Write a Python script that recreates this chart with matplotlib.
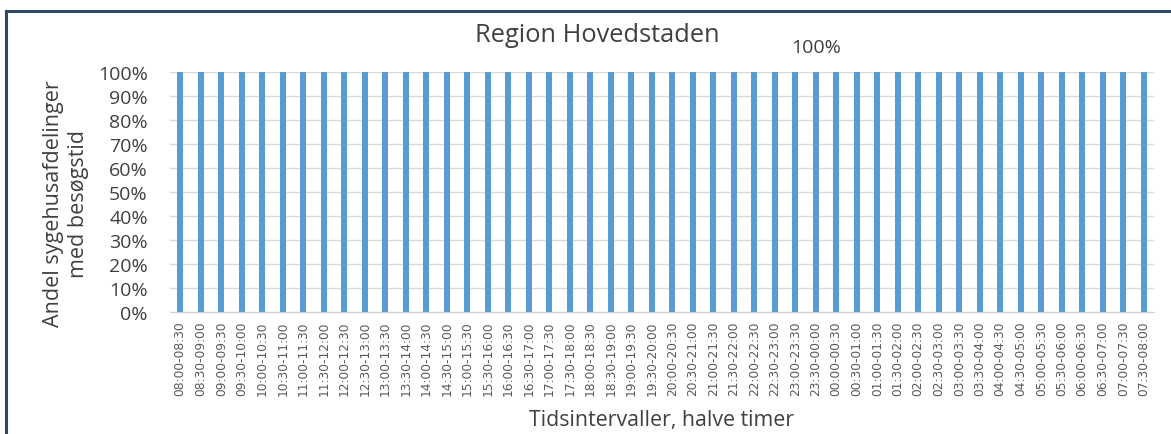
import matplotlib
matplotlib.use("Agg")
import matplotlib.pyplot as plt
from matplotlib.lines import Line2D
from matplotlib.ticker import PercentFormatter

plt.rcParams['font.family'] = ['Open Sans', 'DejaVu Sans']

# Data
starts = ["08:00", "08:30", "09:00", "09:30", "10:00", "10:30", "11:00", "11:30",
          "12:00", "12:30", "13:00", "13:30", "14:00", "14:30", "15:00", "15:30",
          "16:00", "16:30", "17:00", "17:30", "18:00", "18:30", "19:00", "19:30",
          "20:00", "20:30", "21:00", "21:30", "22:00", "22:30", "23:00", "23:30",
          "00:00", "00:30", "01:00", "01:30", "02:00", "02:30", "03:00", "03:30",
          "04:00", "04:30", "05:00", "05:30", "06:00", "06:30", "07:00", "07:30"]
ends = starts[1:] + starts[:1]
categories = [f"{a}-{b}" for a, b in zip(starts, ends)]
values = [1.0] * 48
label_index = 31
label_text = "100%"

title = "Region Hovedstaden"
ylabel = "Andel sygehusafdelinger\nmed besøgstid"
xlabel = "Tidsintervaller, halve timer"

W, H = 1171, 435
fig = plt.figure(figsize=(W / 100, H / 100), dpi=100)
ax = fig.add_axes([170 / W, (H - 313) / H, (1154 - 170) / W, (313 - 73) / H])

x = list(range(len(categories)))
ax.bar(x, values, width=0.3, color="#5B9BD5", zorder=3)
ax.set_xlim(-0.5, len(categories) - 0.5)
ax.set_ylim(0, 1)
ax.set_yticks([i / 10 for i in range(11)])
ax.yaxis.set_major_formatter(PercentFormatter(1.0, decimals=0))
ax.grid(axis="y", color="#D9D9D9", linewidth=1, zorder=0)
for s in ["top", "right", "left"]:
    ax.spines[s].set_visible(False)
ax.spines["bottom"].set_color("#D0D0D0")
ax.tick_params(axis="y", length=0, labelsize=14, labelcolor="#404040", pad=16)
ax.tick_params(axis="x", length=0, labelsize=8.8, labelcolor="#595959", pad=6)
ax.set_xticks(x)
ax.set_xticklabels(categories, rotation=90, family="DejaVu Sans")

ax.annotate(label_text, (x[label_index], values[label_index]), xytext=(0, 18),
            textcoords="offset points", ha="center", va="center",
            fontsize=14, color="#404040")

fig.text(597 / W, 1 - 35 / H, title, ha="center", va="center", fontsize=18.3, color="#404040")
fig.text(662 / W, 1 - 421 / H, xlabel, ha="center", va="center", fontsize=15.4, color="#404040")
fig.text(66 / W, 1 - 204 / H, ylabel, ha="center", va="center", rotation=90,
         fontsize=15.5, color="#404040", linespacing=1.25)

frame_color = "#2E4A66"
fig.add_artist(Line2D([6 / W, 1], [1 - 12 / H, 1 - 12 / H], transform=fig.transFigure,
                      color=frame_color, linewidth=2.2))
fig.add_artist(Line2D([6 / W, 6 / W], [0, 1 - 12 / H], transform=fig.transFigure,
                      color=frame_color, linewidth=2.2))

fig.savefig("out.png", dpi=100)
